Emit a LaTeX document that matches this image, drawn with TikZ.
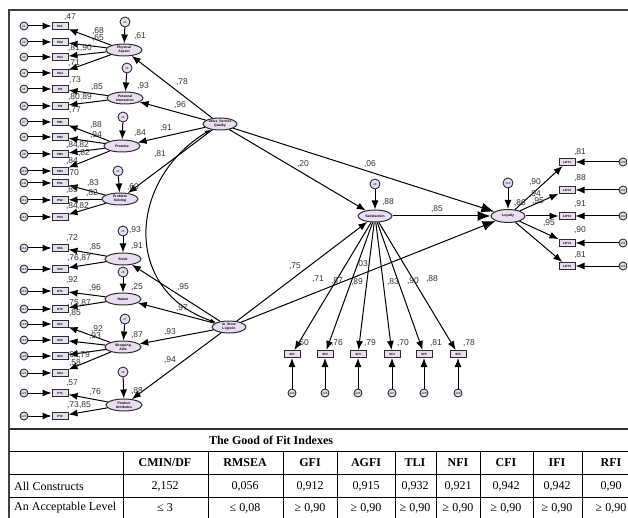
\documentclass[tikz,border=0pt]{standalone}
\usepackage{fontspec}
\setmainfont{Liberation Serif}
\setsansfont{Liberation Sans}
\usetikzlibrary{shapes.geometric,arrows.meta}
\definecolor{amosfill}{RGB}{233,221,242}
\definecolor{amosline}{RGB}{45,45,45}

\begin{document}
\begin{tikzpicture}[x=1pt,y=-1pt,
    latent/.style={ellipse,draw=amosline,line width=1pt,fill=amosfill,minimum width=36pt,minimum height=12pt,inner sep=0pt,align=center,font=\sffamily\bfseries\fontsize{3.4}{3.8}\selectfont},
    observed/.style={rectangle,draw=amosline,line width=1pt,fill=amosfill,minimum width=16pt,minimum height=7pt,inner sep=0pt,font=\sffamily\bfseries\fontsize{3}{3}\selectfont},
    err/.style={circle,draw=amosline,line width=0.9pt,fill=amosfill,minimum size=8pt,inner sep=0pt,font=\sffamily\fontsize{3}{3}\selectfont},
    dist/.style={err,minimum size=10pt},
    effect/.style={line width=1pt,-{Latex[length=9pt,width=7pt]}},
    bigeffect/.style={line width=1pt,-{Latex[length=13pt,width=10pt]}},
    cov/.style={line width=1pt,{Latex[length=6pt,width=4pt]}-{Latex[length=6pt,width=4pt]}},
    lbl/.style={inner sep=0pt,text=black!80,font=\sffamily\fontsize{8.5}{8.5}\selectfont},
    tab/.style={inner sep=0pt,font=\fontsize{12}{12}\selectfont},
    tabhead/.style={inner sep=0pt,font=\bfseries\fontsize{12}{12}\selectfont}]
\useasboundingbox (0,0) rectangle (628,518);

% frame and table rules
\draw[line width=1.3pt,black!75] (9,530) -- (9,10) -- (640,10);
\draw[line width=1.6pt,black!80] (9,429) -- (640,429);
\draw[line width=0.8pt] (9,451) -- (640,451) (9,474) -- (640,474) (9,497) -- (640,497);
\foreach \x in {123,208,283,337,395,436,480,533,582}
    \draw[line width=0.8pt] (\x,451) -- (\x,530);

% latent variables
\node[latent] (phys) at (124,50) {Physical\\Aspect};
\node[latent] (pint) at (125,98) {Personal\\Interaction};
\node[latent] (prom) at (122,146) {Promise};
\node[latent] (prob) at (120,199) {Problem\\Solving};
\node[latent] (stock) at (123,259) {Stock};
\node[latent] (nat) at (123,299) {Nature};
\node[latent] (shop) at (123,347) {Shopping\\Aids};
\node[latent] (prod) at (124,405) {Product\\Attributes};
\node[latent,minimum width=34pt] (vsq) at (220,124) {Value\_Service\\Quality};
\node[latent,minimum width=34pt] (isl) at (229,327) {In\_Store\\Logistic};
\node[latent,minimum width=34pt] (sat) at (375,216) {Satisfaction};
\node[latent,minimum width=34pt,minimum height=13pt] (loy) at (508,216) {Loyalty};

% disturbances
\foreach \x/\y/\t [count=\i] in {125/22/phys,127/68/pint,123/117/prom,118/171/prob,123/231/stock,123/272/nat,125/319/shop,123/372/prod,375/184/sat,508/183/loy} {
    \node[dist] (d\i) at (\x,\y) {z\i};
    \draw[effect] (d\i) -- (\t);
}

% left indicators with their errors
\foreach \n/\t/\y/\l [count=\i] in {pa1/PA1/26/phys,pa2/PA2/42/phys,pa3/PA3/57/phys,pa4/PA4/73/phys,
    pi1/PI1/89/pint,pi2/PI2/106/pint,
    pr1/PR1/122/prom,pr2/PR2/137/prom,pr3/PR3/154/prom,pr4/PR4/171/prom,
    ps1/PS1/183/prob,ps2/PS2/200/prob,ps3/PS3/217/prob,
    ss1/SS1/248/stock,ss2/SS2/269/stock,
    rt1/RT1/291/nat,rt2/RT2/309/nat,
    sc1/SC1/324/shop,sc2/SC2/340/shop,sc3/SC3/356/shop,sc4/SC4/373/shop,
    pt1/PT1/393/prod,pt2/PT2/416/prod} {
    \node[observed] (\n) at (60,\y) {\t};
    \node[err] (e\i) at (24,\y) {e\i};
    \draw[effect] (e\i) -- (\n);
    \draw[effect] (\l) -- (\n);
}

% satisfaction indicators
\foreach \x [count=\i, evaluate=\i as \j using int(\i+23)] in {292,325,358,392,424,458} {
    \node[observed] (sf\i) at (\x,354) {SF\i};
    \node[err] (e\j) at (\x,393) {e\j};
    \draw[effect] (e\j) -- (sf\i);
    \draw[effect] (sat) -- (sf\i);
}

% loyalty indicators
\foreach \y [count=\i, evaluate=\i as \j using int(\i+29)] in {162,190,216,243,266} {
    \node[observed] (loy\i) at (567,\y) {LOY\i};
    \node[err] (e\j) at (623,\y) {e\j};
    \draw[effect] (e\j) -- (loy\i);
    \draw[effect] (loy) -- (loy\i);
}

% structural paths
\foreach \t in {phys,pint,prom,prob}
    \draw[effect] (vsq) -- (\t);
\foreach \t in {stock,nat,shop,prod}
    \draw[effect] (isl) -- (\t);
\draw[effect] (vsq) -- (sat);
\draw[effect] (isl) -- (sat);
\draw[bigeffect] (vsq) -- (loy);
\draw[bigeffect] (isl) -- (loy);
\draw[bigeffect] (sat) -- (loy);
\draw[cov] (vsq) .. controls (128,180) and (122,290) .. (isl);

% estimates
\foreach \x/\y/\t [count=\k] in {70/17/{,47},98/31/{,68},98/38/{,65},74/48/{,81},86/48/{,90},74/63/{,71},75/80/{,73},140/36/{,61},
    182/82/{,78},97/87/{,85},143/86/{,93},74/97/{,80},86/97/{,89},75/110/{,77},180/105/{,96},
    96/125/{,88},96/135/{,94},140/133/{,84},166/128/{,91},72/145/{,84},83/145/{,82},84/153/{,82},72/161/{,84},73/173/{,70},160/154/{,81},
    93/183/{,83},72/190/{,85},92/193/{,82},133/187/{,60},72/206/{,84},83/206/{,82},
    135/230/{,93},72/238/{,72},95/247/{,85},137/246/{,91},73/258/{,76},85/258/{,87},
    72/280/{,92},95/288/{,96},137/287/{,25},183/287/{,95},182/308/{,97},73/303/{,75},85/303/{,87},75/313/{,85},
    97/329/{,92},95/336/{,93},137/335/{,87},170/332/{,93},73/355/{,62},84/355/{,79},75/363/{,58},170/360/{,94},
    72/383/{,57},95/392/{,76},137/391/{,88},73/405/{,73},85/405/{,85},
    303/164/{,20},370/164/{,06},437/209/{,85},388/202/{,88},295/266/{,75},362/264/{,03},
    318/279/{,71},337/281/{,87},357/282/{,89},393/282/{,83},413/281/{,90},432/279/{,88},
    303/343/{,50},337/343/{,76},370/343/{,79},403/343/{,70},436/343/{,81},469/343/{,78},
    520/203/{,86},535/182/{,90},535/194/{,94},538/201/{,95},549/223/{,95},
    580/152/{,81},580/178/{,88},580/204/{,91},580/230/{,90},580/255/{,81}}
    \node[lbl] (v\k) at (\x,\y) {\t};

% fit table
\node[tabhead] (ttl) at (271,440) {The Good of Fit Indexes};
\node[tab,anchor=west] (row1) at (14,486) {All Constructs};
\node[tab,anchor=west] (row2) at (14,508) {An Acceptable Level};
\foreach \x/\h/\a/\b [count=\k] in {165/{CMIN/DF}/{2,152}/{≤ 3},245/RMSEA/{0,056}/{≤ 0,08},310/GFI/{0,912}/{≥ 0,90},
    366/AGFI/{0,915}/{≥ 0,90},415/TLI/{0,932}/{≥ 0,90},458/NFI/{0,921}/{≥ 0,90},506/CFI/{0,942}/{≥ 0,90},
    557/IFI/{0,942}/{≥ 0,90},611/RFI/{0,90}/{≥ 0,90}} {
    \node[tabhead] (h\k) at (\x,463) {\h};
    \node[tab] (a\k) at (\x,486) {\a};
    \node[tab] (b\k) at (\x,508) {\b};
}
\end{tikzpicture}
\end{document}
